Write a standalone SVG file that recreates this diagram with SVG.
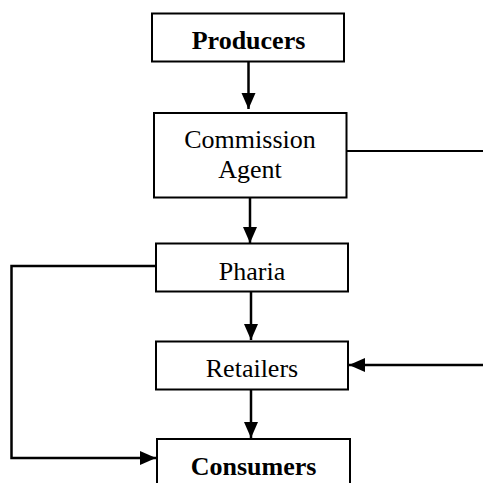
<svg xmlns="http://www.w3.org/2000/svg" width="483" height="483" viewBox="0 0 483 483">
<style>
.box{fill:#fff;stroke:#000;stroke-width:2}
.t{font-family:"Liberation Serif","Times New Roman",serif;font-size:26px;fill:#000;text-anchor:middle}
.b{font-weight:bold}
.c{fill:none;stroke:#000;stroke-width:2}
.a{fill:none;stroke:#000;stroke-width:2.5}
</style>
<defs>
<marker id="ah" markerUnits="userSpaceOnUse" markerWidth="16" markerHeight="16" viewBox="0 0 16 14" refX="16" refY="7" orient="auto">
<path d="M0,0 L16,7 L0,14 Z" fill="#000"/>
</marker>
</defs>
<g id="connectors">
<line class="a" x1="248.5" y1="62" x2="248.5" y2="109" marker-end="url(#ah)"/>
<line class="a" x1="250" y1="198" x2="250" y2="243" marker-end="url(#ah)"/>
<line class="a" x1="251" y1="292" x2="251" y2="340" marker-end="url(#ah)"/>
<line class="a" x1="251" y1="390" x2="251" y2="438" marker-end="url(#ah)"/>
<line class="c" x1="347" y1="151" x2="483" y2="151"/>
<line class="a" x1="483" y1="365" x2="349" y2="365" marker-end="url(#ah)"/>
<polyline class="a" points="156,266 11.5,266 11.5,458 156,458" marker-end="url(#ah)"/>
</g>
<g id="producers">
<rect class="box" x="152" y="13.5" width="192" height="48"/>
<text class="t b" x="248.5" y="49">Producers</text>
</g>
<g id="commission-agent">
<rect class="box" x="154" y="113" width="192.5" height="84.5"/>
<text class="t" x="250" y="147.5">Commission</text>
<text class="t" x="250" y="178">Agent</text>
</g>
<g id="pharia">
<rect class="box" x="156" y="243.5" width="192" height="48"/>
<text class="t" x="252" y="279.5">Pharia</text>
</g>
<g id="retailers">
<rect class="box" x="156" y="341.5" width="192" height="48"/>
<text class="t" x="252" y="376.5">Retailers</text>
</g>
<g id="consumers">
<rect class="box" x="157" y="439" width="193" height="60"/>
<text class="t b" x="253.5" y="475">Consumers</text>
</g>
</svg>
